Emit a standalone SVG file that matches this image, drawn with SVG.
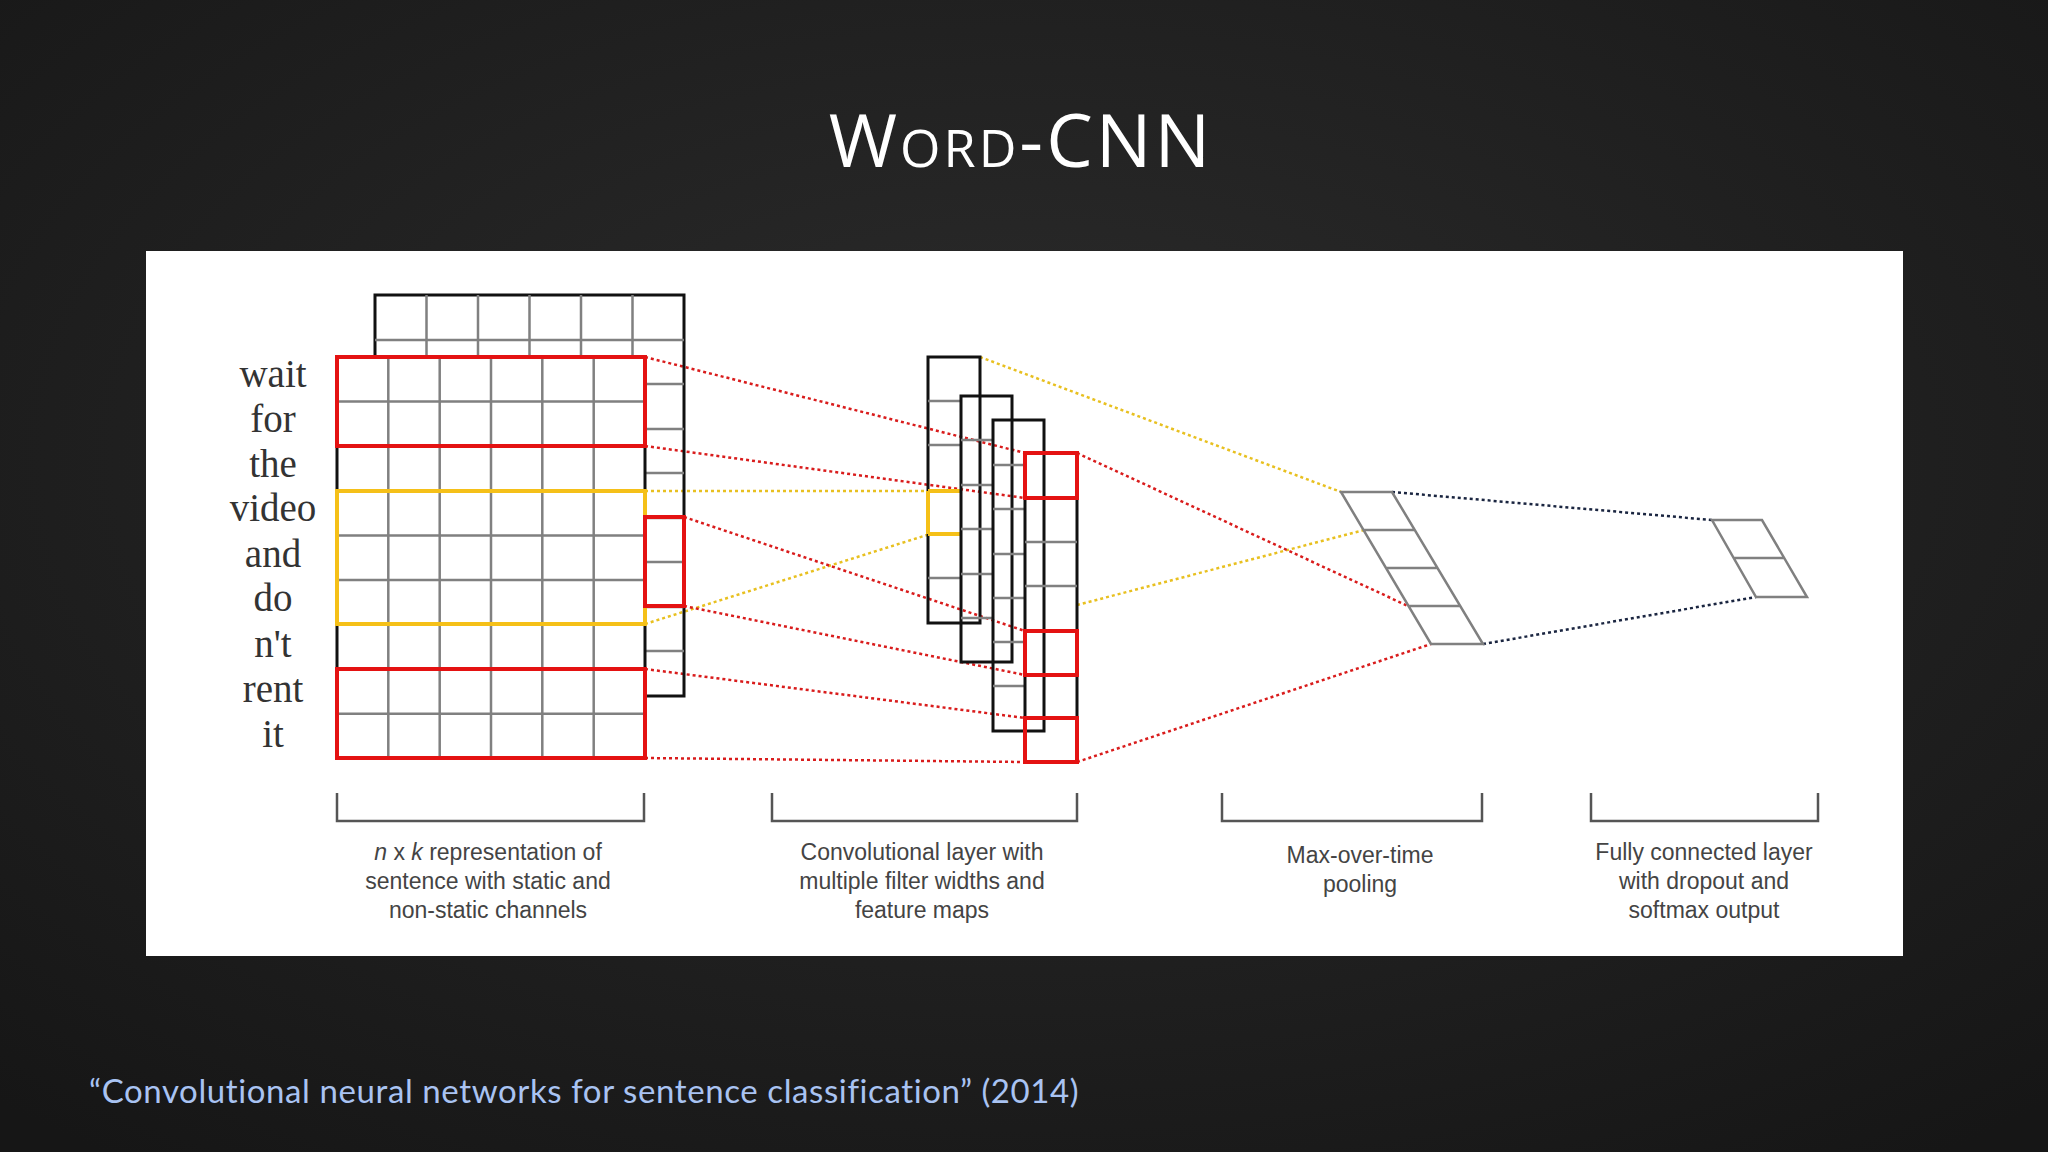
<svg xmlns="http://www.w3.org/2000/svg" width="2048" height="1152" viewBox="0 0 2048 1152">
<defs>
<radialGradient id="bg" cx="50%" cy="40%" r="75%"><stop offset="0" stop-color="#2c2c2c"/><stop offset="1" stop-color="#161616"/></radialGradient>
<style>
.g{stroke:#808080;stroke-width:2.5;fill:none}
.k{stroke:#111;stroke-width:3;fill:none}
.r{stroke:#e41212;stroke-width:4;fill:none}
.y{stroke:#f5c018;stroke-width:4;fill:none}
.dr{stroke:#d91c1c;stroke-width:2.5;stroke-dasharray:3 3;fill:none}
.dy{stroke:#e8c020;stroke-width:2.5;stroke-dasharray:3 3;fill:none}
.dn{stroke:#1a2540;stroke-width:2.5;stroke-dasharray:3 3;fill:none}
.w{font-family:"Liberation Serif",serif;font-size:39px;fill:#333;text-anchor:middle}
.l{font-family:"Liberation Sans",Arial,sans-serif;font-size:23px;fill:#444;text-anchor:middle}
.br{stroke:#555;stroke-width:2.5;fill:none}
</style>
</defs>
<rect width="2048" height="1152" fill="url(#bg)"/>
<text x="1021" y="167" font-family="Open Sans, sans-serif" font-size="74" font-variant="small-caps" letter-spacing="3" fill="#fff" text-anchor="middle">Word-CNN</text>
<rect x="146" y="251" width="1757" height="705" fill="#fff"/>

<g id="connectors">
<path class="dy" d="M645 491H927M645 624L927 535M980 357L1341 492M1077 605L1364 530"/>
<path class="dr" d="M645 357L1025 453M645 446L1025 498M684 517L1025 631M684 606L1025 675M645 669L1025 718M645 758L1025 762M1077 453L1408 606M1077 762L1431 644"/>
<path class="dn" d="M1392 492L1712 520M1483 644L1756 597"/>
</g>

<g id="input">
<rect x="375" y="295" width="309" height="401" fill="#fff" class="k"/>
<path class="g" d="M426.5 295V357M478 295V357M529.5 295V357M581 295V357M632.5 295V357M375 340H684M645 384H684M645 429H684M645 473H684M645 518H684M645 562H684M645 607H684M645 651H684"/>
<rect x="337" y="357" width="308" height="401" fill="#fff" stroke="#111" stroke-width="3"/>
<path class="g" d="M388.3 357V758M439.7 357V758M491 357V758M542.3 357V758M593.7 357V758M337 401.6H645M337 446.2H645M337 490.8H645M337 535.4H645M337 580H645M337 624.6H645M337 669.2H645M337 713.8H645"/>
<rect class="r" x="337" y="357" width="308" height="89"/>
<rect class="y" x="337" y="491" width="308" height="133"/>
<rect class="r" x="337" y="669" width="308" height="89"/>
<rect class="r" x="645" y="517" width="39" height="89"/>
</g>

<g id="words">
<text class="w" x="273" y="387">wait</text>
<text class="w" x="273" y="432">for</text>
<text class="w" x="273" y="477">the</text>
<text class="w" x="273" y="521">video</text>
<text class="w" x="273" y="567">and</text>
<text class="w" x="273" y="611">do</text>
<text class="w" x="273" y="657">n't</text>
<text class="w" x="273" y="702">rent</text>
<text class="w" x="273" y="747">it</text>
</g>

<g id="featuremaps">
<rect class="k" x="928" y="357" width="52" height="266" fill="#fff"/>
<path class="g" d="M928 401H961M928 445H961M928 578H961"/>
<path class="y" d="M928 491H961M928 534H961M928 491V534"/>
<rect class="k" x="961" y="396" width="51" height="266" fill="#fff"/>
<path class="g" d="M961 440H993M961 485H993M961 529H993M961 574H993M961 618H993"/>
<rect class="k" x="993" y="420" width="51" height="311" fill="#fff"/>
<path class="g" d="M993 465H1025M993 509H1025M993 554H1025M993 598H1025M993 642H1025M993 686H1025"/>
<rect class="k" x="1025" y="453" width="52" height="309" fill="#fff"/>
<path class="g" d="M1025 542H1077M1025 586H1077"/>
<rect class="r" x="1025" y="453" width="52" height="45"/>
<rect class="r" x="1025" y="631" width="52" height="44"/>
<rect class="r" x="1025" y="718" width="52" height="44"/>
</g>

<g id="pooling">
<path class="g" d="M1341 492H1392L1483 644H1431ZM1364 530H1415M1386 568H1438M1409 606H1460"/>
</g>
<g id="fc">
<path class="g" d="M1712 520H1762L1807 597H1756ZM1734 558H1785"/>
</g>

<g id="labels">
<path class="br" d="M337 793V821H644V793M772 793V821H1077V793M1222 793V821H1482V793M1591 793V821H1818V793"/>
<text class="l" x="488" y="860"><tspan font-style="italic">n</tspan> x <tspan font-style="italic">k</tspan> representation of</text>
<text class="l" x="488" y="889">sentence with static and</text>
<text class="l" x="488" y="918">non-static channels</text>
<text class="l" x="922" y="860">Convolutional layer with</text>
<text class="l" x="922" y="889">multiple filter widths and</text>
<text class="l" x="922" y="918">feature maps</text>
<text class="l" x="1360" y="863">Max-over-time</text>
<text class="l" x="1360" y="892">pooling</text>
<text class="l" x="1704" y="860">Fully connected layer</text>
<text class="l" x="1704" y="889">with dropout and</text>
<text class="l" x="1704" y="918">softmax output</text>
</g>
<text x="89" y="1103" font-family="Lato, sans-serif" font-size="33" letter-spacing="0.6" fill="#a9c3f2">“Convolutional neural networks for sentence classification” (2014)</text>
</svg>
